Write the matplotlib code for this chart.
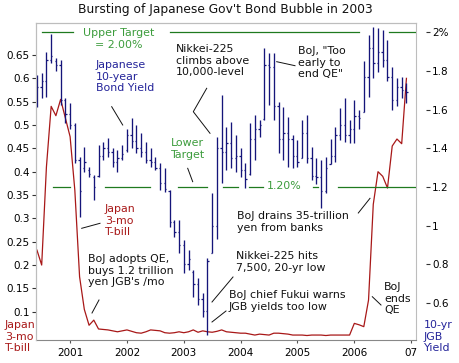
import numpy as np
import pandas as pd
import matplotlib
matplotlib.use('Agg')
import matplotlib.pyplot as plt

W, H = 460, 363

# monthly bars, Jun 2000 .. Dec 2006
months = pd.date_range('2000-06-01', periods=79, freq='MS')
t = months.year + (months.month - 1) / 12

jgb_high = [1.78, 1.79, 1.90, 1.99, 1.87, 1.855, 1.66, 1.635, 1.53, 1.357,
            1.41, 1.306, 1.263, 1.418, 1.435, 1.453, 1.40, 1.392, 1.418, 1.50,
            1.556, 1.522, 1.479, 1.435, 1.40, 1.357, 1.323, 1.297, 1.185, 1.03,
            1.03, 0.926, 0.874, 0.771, 0.728, 0.65, 0.831, 1.168, 1.46, 1.677,
            1.513, 1.539, 1.47, 1.40, 1.323, 1.53, 1.573, 1.547, 1.919, 1.893,
            1.893, 1.642, 1.616, 1.565, 1.47, 1.444, 1.547, 1.573, 1.409, 1.35,
            1.34, 1.357, 1.45, 1.51, 1.608, 1.66, 1.547, 1.651, 1.60, 1.85,
            1.987, 2.03, 2.022, 2.013, 1.96, 1.823, 1.763, 1.77, 1.737]
jgb_low = [1.615, 1.66, 1.665, 1.84, 1.80, 1.625, 1.53, 1.50, 1.325, 1.047,
           1.28, 1.254, 1.133, 1.254, 1.34, 1.357, 1.306, 1.28, 1.34, 1.383,
           1.40, 1.375, 1.357, 1.323, 1.306, 1.288, 1.185, 1.176, 0.995, 0.943,
           0.857, 0.754, 0.771, 0.633, 0.59, 0.529, 0.435, 0.857, 0.93, 1.22,
           1.289, 1.297, 1.28, 1.254, 1.194, 1.263, 1.34, 1.461, 1.547, 1.625,
           1.547, 1.375, 1.34, 1.306, 1.297, 1.306, 1.35, 1.323, 1.237, 1.215,
           1.09, 1.168, 1.32, 1.33, 1.444, 1.435, 1.427, 1.427, 1.50, 1.59,
           1.668, 1.763, 1.797, 1.823, 1.75, 1.60, 1.62, 1.66, 1.634]
jgb_open = [1.70, 1.72, 1.75, 1.86, 1.85, 1.83, 1.65, 1.58, 1.52, 1.34,
            1.30, 1.29, 1.25, 1.26, 1.36, 1.40, 1.38, 1.33, 1.35, 1.39,
            1.47, 1.44, 1.40, 1.38, 1.34, 1.33, 1.30, 1.22, 1.18, 1.02,
            0.97, 0.90, 0.80, 0.76, 0.70, 0.62, 0.56, 0.86, 1.00, 1.40,
            1.38, 1.43, 1.35, 1.36, 1.29, 1.27, 1.45, 1.50, 1.55, 1.83,
            1.82, 1.62, 1.45, 1.48, 1.45, 1.36, 1.35, 1.48, 1.35, 1.26,
            1.25, 1.18, 1.32, 1.36, 1.47, 1.52, 1.47, 1.50, 1.57, 1.59,
            1.77, 1.92, 1.84, 1.90, 1.86, 1.77, 1.65, 1.72, 1.70]
jgb_close = [1.72, 1.75, 1.86, 1.88, 1.83, 1.65, 1.58, 1.52, 1.34, 1.18,
             1.33, 1.27, 1.20, 1.36, 1.40, 1.38, 1.33, 1.35, 1.37, 1.47,
             1.44, 1.40, 1.38, 1.34, 1.33, 1.30, 1.22, 1.19, 1.02, 0.97,
             0.90, 0.80, 0.83, 0.70, 0.62, 0.56, 0.82, 1.00, 1.40, 1.38,
             1.43, 1.35, 1.36, 1.29, 1.24, 1.45, 1.50, 1.52, 1.83, 1.82,
             1.62, 1.45, 1.48, 1.45, 1.36, 1.33, 1.48, 1.35, 1.26, 1.25,
             1.18, 1.30, 1.36, 1.47, 1.52, 1.47, 1.50, 1.57, 1.56, 1.77,
             1.92, 1.84, 1.90, 1.86, 1.77, 1.65, 1.72, 1.70, 1.69]

tbill = [0.232, 0.20, 0.41, 0.54, 0.52, 0.555, 0.515, 0.475, 0.36, 0.175,
         0.105, 0.071, 0.082, 0.063, 0.062, 0.061, 0.059, 0.057, 0.059, 0.061,
         0.058, 0.055, 0.054, 0.057, 0.061, 0.060, 0.059, 0.055, 0.054, 0.055,
         0.057, 0.055, 0.057, 0.061, 0.056, 0.059, 0.057, 0.056, 0.058, 0.061,
         0.057, 0.056, 0.055, 0.054, 0.054, 0.052, 0.050, 0.052, 0.051, 0.050,
         0.054, 0.054, 0.053, 0.052, 0.050, 0.050, 0.050, 0.049, 0.050, 0.050,
         0.050, 0.049, 0.050, 0.050, 0.050, 0.050, 0.050, 0.075, 0.072, 0.068,
         0.125, 0.33, 0.40, 0.39, 0.365, 0.455, 0.47, 0.46, 0.60]

left_ticks = [0.1, 0.15, 0.2, 0.25, 0.3, 0.35, 0.4, 0.45, 0.5, 0.55, 0.6, 0.65]
left_labels = ['0.1', '0.15', '0.2', '0.25', '0.3', '0.35', '0.4', '0.45',
               '0.5', '0.55', '0.6', '0.65']
right_ticks = [0.6, 0.8, 1.0, 1.2, 1.4, 1.6, 1.8, 2.0]
right_labels = ['0.6', '0.8', '1', '1.2', '1.4', '1.6', '1.8', '2%']
year_ticks = [2001, 2002, 2003, 2004, 2005, 2006, 2007]
year_labels = ['2001', '2002', '2003', '2004', '2005', '2006', '07']

NAVY = '#15157a'
RED = '#a81818'
GREEN = '#1f7a1f'
LGREEN = '#3c9c3c'
GRID = '#bdbdbd'

plt.rcParams['font.family'] = 'DejaVu Sans'
fig = plt.figure(figsize=(W / 100, H / 100), dpi=100)
ax = fig.add_axes([36 / W, 23 / H, 380 / W, 317 / H])
ax2 = ax.twinx()

ax.set_xlim(2000.40, 2007.085)
ax.set_ylim(0.0394, 0.7186)
ax2.set_ylim(0.409, 2.049)

# T-bill line (left scale)
ax.plot(t, tbill, color=RED, lw=0.9, zorder=3)

# target lines, broken around the bars and labels
up_seg = [(2000.506, 2001.053), (2002.764, 2006.079), (2006.608, 2007.085)]
lo_seg = [(2000.70, 2001.0), (2001.617, 2002.411), (2002.905, 2003.416),
          (2003.698, 2003.945), (2004.139, 2004.386), (2005.268, 2005.356),
          (2005.709, 2007.085)]
for a, b in up_seg:
    ax2.plot([a, b], [2.0, 2.0], color=GREEN, lw=0.9, zorder=1)
for a, b in lo_seg:
    ax2.plot([a, b], [1.2, 1.2], color=GREEN, lw=0.9, zorder=1)

# JGB monthly high-low bars with open/close ticks
d = 0.022
ax2.vlines(t, jgb_low, jgb_high, color=NAVY, lw=0.95, zorder=2)
ax2.hlines(jgb_open, t - d, t, color=NAVY, lw=0.9, zorder=2)
ax2.hlines(jgb_close, t, t + d, color=NAVY, lw=0.9, zorder=2)

ax.set_xticks(year_ticks)
ax.set_xticklabels(year_labels)
ax.set_yticks(left_ticks)
ax.set_yticklabels(left_labels)
ax2.set_yticks(right_ticks)
ax2.set_yticklabels(right_labels)

for a in (ax, ax2):
    for s in a.spines.values():
        s.set_color(GRID)
        s.set_linewidth(0.8)
ax.spines['bottom'].set_color('#888888')
ax2.spines['bottom'].set_visible(False)
ax2.spines['right'].set_position(('outward', 7))
ax2.spines['right'].set_visible(False)

ax.tick_params(axis='y', labelsize=7.5, length=3, width=0.8, pad=1.5, color='#333333')
ax.tick_params(axis='x', labelsize=7.5, length=2, width=0.8, pad=4, color='#555555')
ax2.tick_params(axis='y', labelsize=7.5, length=3, width=0.8, pad=1.5, color='#333333')

# overlay in reference pixel space for texts and pointer lines
ov = fig.add_axes([0, 0, 1, 1])
ov.set_xlim(0, W)
ov.set_ylim(H, 0)
ov.axis('off')
ov.patch.set_alpha(0)

ov.text(225, 10, "Bursting of Japanese Gov't Bond Bubble in 2003",
        ha='center', va='center', fontsize=8.8, color='#111111')

fs = 7.9
ls = 1.2
ov.text(119, 28, "Upper Target\n= 2.00%", ha='center', va='top', fontsize=fs,
        color=LGREEN, linespacing=ls, multialignment='center')
ov.text(96, 60, "Japanese\n10-year\nBond Yield", ha='left', va='top', fontsize=fs,
        color='#24249a', linespacing=ls)
ov.text(176, 44, "Nikkei-225\nclimbs above\n10,000-level", ha='left', va='top',
        fontsize=fs, color='#111111', linespacing=ls)
ov.text(298, 46, 'BoJ, "Too\nearly to\nend QE"', ha='left', va='top', fontsize=fs,
        color='#111111', linespacing=ls)
ov.text(171, 138, "Lower\nTarget", ha='left', va='top', fontsize=fs,
        color=LGREEN, linespacing=ls)
ov.text(284, 186, "1.20%", ha='center', va='center', fontsize=fs, color=LGREEN)
ov.text(105, 204, "Japan\n3-mo\nT-bill", ha='left', va='top', fontsize=fs,
        color=RED, linespacing=ls)
ov.text(88, 254, "BoJ adopts QE,\nbuys 1.2 trillion\nyen JGB's /mo", ha='left',
        va='top', fontsize=fs, color='#111111', linespacing=ls)
ov.text(237, 211, "BoJ drains 35-trillion\nyen from banks", ha='left', va='top',
        fontsize=fs, color='#111111', linespacing=ls)
ov.text(236, 251, "Nikkei-225 hits\n7,500, 20-yr low", ha='left', va='top',
        fontsize=fs, color='#111111', linespacing=ls)
ov.text(229, 290, "BoJ chief Fukui warns\nJGB yields too low", ha='left', va='top',
        fontsize=fs, color='#111111', linespacing=ls)
ov.text(384, 282, "BoJ\nends\nQE", ha='left', va='top', fontsize=fs,
        color='#111111', linespacing=ls)
ov.text(5, 320, "Japan\n3-mo\nT-bill", ha='left', va='top', fontsize=fs,
        color=RED, linespacing=ls)
ov.text(424, 320, "10-yr\nJGB\nYield", ha='left', va='top', fontsize=fs,
        color='#24249a', linespacing=ls)

pointers = [
    ([111.7, 122.7], [106.7, 125]),
    ([206.7, 193.3, 210], [88.3, 111.7, 133.3]),
    ([276.7, 295], [61.7, 65.7]),
    ([187.7, 192.7], [168.3, 181.7]),
    ([81.7, 100], [228.3, 223.3]),
    ([92, 99], [313, 300]),
    ([358.3, 370], [213, 198.3]),
    ([212, 233], [302, 277]),
    ([212, 226], [322, 311]),
    ([372.3, 381], [296.7, 305]),
]
for xs, ys in pointers:
    ov.plot(xs, ys, color='#111111', lw=0.7)

fig.savefig('out.png', dpi=100)
